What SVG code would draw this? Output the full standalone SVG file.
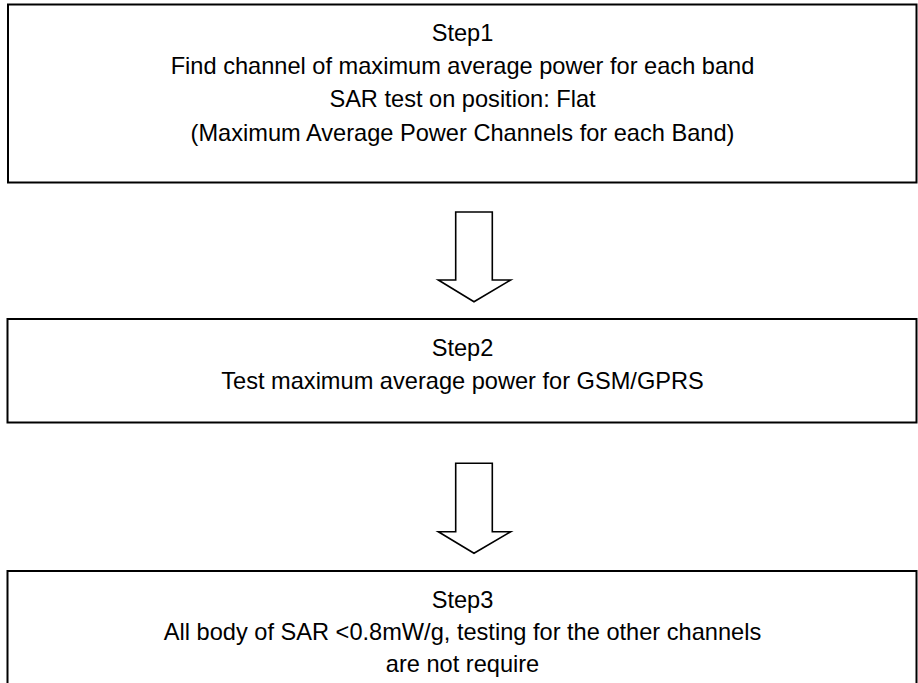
<svg xmlns="http://www.w3.org/2000/svg" width="918" height="683" viewBox="0 0 918 683">
<style>
.box{fill:#fff;stroke:#000;stroke-width:2}
.arr{fill:#fff;stroke:#000;stroke-width:1.6;stroke-linejoin:miter}
text{font-family:"Liberation Sans",Arial,sans-serif;font-size:23.6px;fill:#000;text-anchor:middle}
</style>
<rect width="918" height="683" fill="#fff"/>
<g id="step1">
<rect class="box" x="8" y="4.5" width="908.5" height="178"/>
<text x="462.5" y="41">Step1</text>
<text x="462.5" y="73.5">Find channel of maximum average power for each band</text>
<text x="462.5" y="107">SAR test on position: Flat</text>
<text x="462.5" y="140.5">(Maximum Average Power Channels for each Band)</text>
</g>
<g id="step2">
<rect class="box" x="7.5" y="319" width="909" height="103.5"/>
<text x="462.5" y="356">Step2</text>
<text x="462.5" y="388.5">Test maximum average power for GSM/GPRS</text>
</g>
<g id="step3">
<rect class="box" x="7.5" y="571" width="909" height="130"/>
<text x="462.5" y="607.5">Step3</text>
<text x="462.5" y="640">All body of SAR &lt;0.8mW/g, testing for the other channels</text>
<text x="462.5" y="672">are not require</text>
</g>
<g id="connectors">
<polygon class="arr" points="455.7,212 492.3,212 492.3,280 510.7,280 474,301.7 438.3,280 455.7,280"/>
<polygon class="arr" points="455.7,463.3 492.3,463.3 492.3,531.7 510.7,531.7 474,553.3 438.3,531.7 455.7,531.7"/>
</g>
</svg>
